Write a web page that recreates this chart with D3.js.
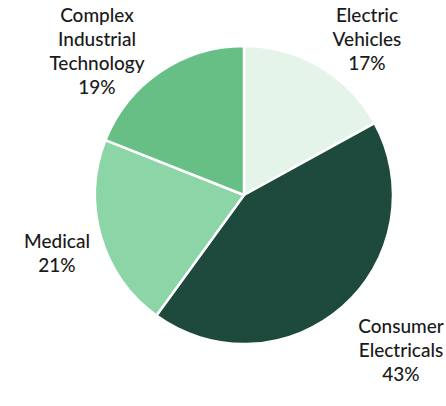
<!DOCTYPE html>
<html>
<head>
<meta charset="utf-8">
<script src="https://cdn.jsdelivr.net/npm/d3@7"></script>
<style>
  body { margin: 0; background: #fff; }
  text { font-family: "Lato", "Open Sans", sans-serif; fill: #1a1a1a; }
</style>
</head>
<body>
<div id="chart"></div>
<script>
// chart data
const categories = ['Electric Vehicles', 'Consumer Electricals', 'Medical', 'Complex Industrial Technology'];
const values = [17, 43, 21, 19];
const labelLines = [
  ['Electric', 'Vehicles', '17%'],
  ['Consumer', 'Electricals', '43%'],
  ['Medical', '21%'],
  ['Complex', 'Industrial', 'Technology', '19%']
];

const colors = ['#e4f4e9', '#1d4a3d', '#8cd5a6', '#67bf85'];

const width = 446, height = 406;
const cx = 244, cy = 195, radius = 149;

// where each label block sits (x center, first baseline)
const labelPos = [
  [367, 22],
  [401, 333],
  [57, 248],
  [97, 22]
];
const lineHeight = 24;

const svg = d3.select('#chart')
  .append('svg')
  .attr('width', width)
  .attr('height', height);

const g = svg.append('g')
  .attr('transform', `translate(${cx},${cy})`);

const pie = d3.pie().sort(null).value(d => d);
const arc = d3.arc().innerRadius(0).outerRadius(radius);

g.selectAll('path')
  .data(pie(values))
  .join('path')
  .attr('d', arc)
  .attr('fill', (d, i) => colors[i])
  .attr('stroke', '#fff')
  .attr('stroke-width', 2.5)
  .attr('stroke-linejoin', 'round');

// labels
labelLines.forEach((lines, i) => {
  const t = svg.append('text')
    .attr('text-anchor', 'middle')
    .style('font-size', '19px')
    .style('font-weight', 500)
    .attr('x', labelPos[i][0])
    .attr('y', labelPos[i][1]);
  lines.forEach((line, j) => {
    t.append('tspan')
      .attr('x', labelPos[i][0])
      .attr('y', labelPos[i][1] + j * lineHeight)
      .text(line);
  });
});
</script>
</body>
</html>
